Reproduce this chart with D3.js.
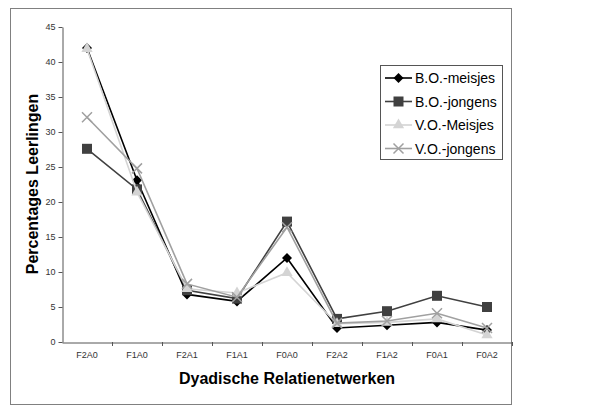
<!DOCTYPE html>
<html><head><meta charset="utf-8">
<script src="https://cdn.jsdelivr.net/npm/d3@7"></script>
<style>body{margin:0;background:#fff}svg{display:block}</style>
</head><body>
<script>
const categories = ["F2A0","F1A0","F2A1","F1A1","F0A0","F2A2","F1A2","F0A1","F0A2"];
const seriesNames = ["B.O.-meisjes","B.O.-jongens","V.O.-Meisjes","V.O.-jongens"];
const boMeisjes  = [42.0, 23.1, 6.8, 5.8, 12.0, 2.0, 2.4, 2.8, 1.7];
const boJongens  = [27.6, 21.8, 7.4, 6.2, 17.2, 3.3, 4.4, 6.6, 5.0];
const voMeisjes  = [41.9, 21.4, 7.6, 7.0, 9.9, 2.6, 2.8, 3.3, 1.0];
const voJongens  = [32.1, 24.8, 8.3, 6.4, 16.4, 2.7, 3.0, 4.1, 2.0];
const yTicks = [0,5,10,15,20,25,30,35,40,45];

const W=615,H=408;
const svg=d3.select("body").append("svg").attr("width",W).attr("height",H);
svg.append("rect").attr("x",10.5).attr("y",8.5).attr("width",501).attr("height",396)
  .attr("fill","#fff").attr("stroke","#808080").attr("stroke-width",1);

const x=d3.scaleBand().domain(categories).range([62,512]);
const y=d3.scaleLinear().domain([0,45]).range([342,27]);

const ya=svg.append("g").attr("transform","translate(62.5,0)")
  .call(d3.axisLeft(y).tickValues(yTicks).tickSize(4).tickSizeOuter(0));
ya.select(".domain").attr("stroke","#555");
ya.selectAll(".tick line").attr("stroke","#555");
ya.selectAll(".tick text").attr("font-family","Arial, 'Liberation Sans', sans-serif").attr("font-size",9).attr("fill","#333");

const xa=svg.append("g").attr("transform","translate(0,342.5)")
  .call(d3.axisBottom(x).tickSize(0).tickSizeOuter(0));
xa.select(".domain").attr("stroke","#555");
xa.selectAll(".tick text").attr("dy",12).attr("font-family","Arial, 'Liberation Sans', sans-serif").attr("font-size",9).attr("fill","#333");
svg.append("g").selectAll("line").data(categories.slice(1).concat(["_end"])).join("line")
  .attr("x1",(d,i)=>Math.round(62+x.step()*(i+1))+0.5).attr("x2",(d,i)=>Math.round(62+x.step()*(i+1))+0.5)
  .attr("y1",342).attr("y2",346).attr("stroke","#555");

svg.append("text").attr("x",287).attr("y",384).attr("text-anchor","middle")
  .attr("font-family","Arial, 'Liberation Sans', sans-serif").attr("font-weight","bold").attr("font-size",16)
  .text("Dyadische Relatienetwerken");
svg.append("text").attr("transform","translate(38,184) rotate(-90)").attr("text-anchor","middle")
  .attr("font-family","Arial, 'Liberation Sans', sans-serif").attr("font-weight","bold").attr("font-size",16)
  .text("Percentages Leerlingen");

const series=[
  {name:seriesNames[0],vals:boMeisjes,color:"#000",marker:"diamond"},
  {name:seriesNames[1],vals:boJongens,color:"#404040",marker:"square"},
  {name:seriesNames[2],vals:voMeisjes,color:"#d4d4d4",marker:"triangle"},
  {name:seriesNames[3],vals:voJongens,color:"#a0a0a0",marker:"cross"}
];
const cx=c=>x(c)+x.bandwidth()/2;
const line=d3.line().x((d,i)=>cx(categories[i])).y(d=>y(d));

function drawMarker(g,type,color,px,py){
  if(type==="diamond"){
    g.append("path").attr("d",`M${px},${py-5}L${px+5},${py}L${px},${py+5}L${px-5},${py}Z`).attr("fill",color);
  } else if(type==="square"){
    g.append("rect").attr("x",px-5).attr("y",py-5).attr("width",10).attr("height",10).attr("fill",color);
  } else if(type==="triangle"){
    g.append("path").attr("d",d3.symbol(d3.symbolTriangle,55)()).attr("transform",`translate(${px},${py})`).attr("fill",color);
  } else {
    g.append("path").attr("d",`M${px-5},${py-5}L${px+5},${py+5}M${px-5},${py+5}L${px+5},${py-5}`).attr("stroke",color).attr("stroke-width",1.5);
  }
}
series.forEach(s=>{
  const g=svg.append("g");
  g.append("path").attr("d",line(s.vals)).attr("fill","none").attr("stroke",s.color).attr("stroke-width",1.6);
  s.vals.forEach((v,i)=>drawMarker(g,s.marker,s.color,cx(categories[i]),y(v)));
});

const lg=svg.append("g");
lg.append("rect").attr("x",380.5).attr("y",65.5).attr("width",122).attr("height",94).attr("fill","#fff").attr("stroke","#555");
series.forEach((s,i)=>{
  const ly=78+i*23.5;
  lg.append("line").attr("x1",385).attr("x2",412).attr("y1",ly).attr("y2",ly).attr("stroke",s.color).attr("stroke-width",1.6);
  drawMarker(lg,s.marker,s.color,398.5,ly);
  lg.append("text").attr("x",415).attr("y",ly+5).attr("font-family","Arial, 'Liberation Sans', sans-serif").attr("font-size",14).text(s.name);
});
</script>
</body></html>
